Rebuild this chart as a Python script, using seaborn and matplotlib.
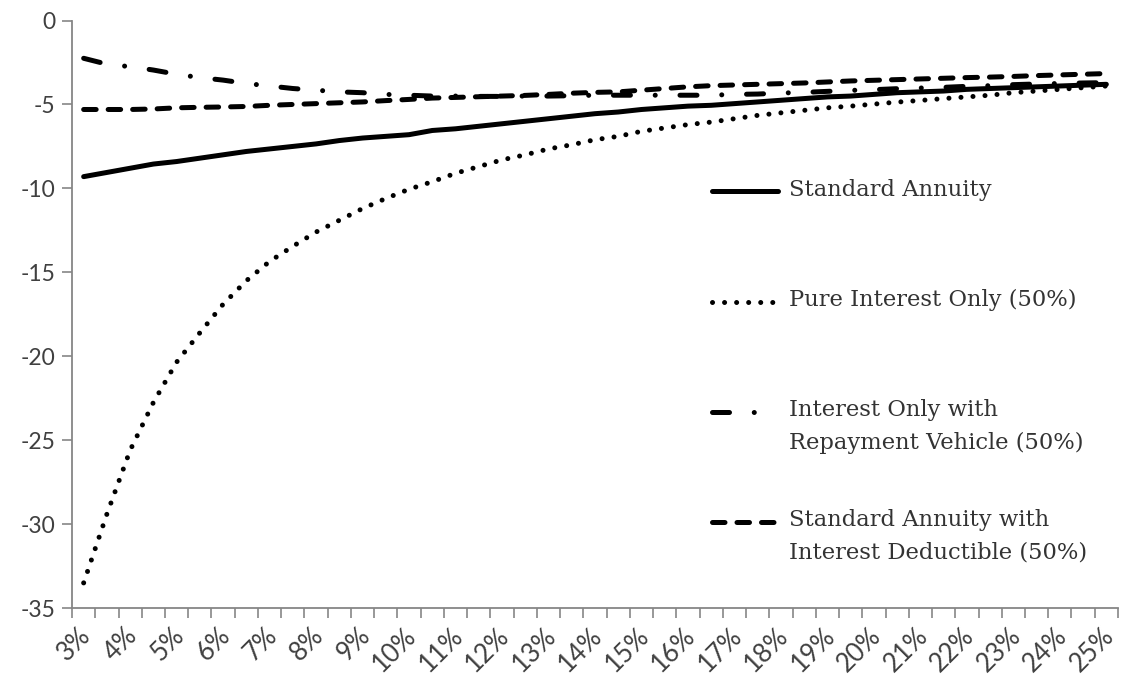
import matplotlib
matplotlib.use("Agg")
import numpy as np
import pandas as pd
import matplotlib.pyplot as plt
import seaborn as sns
from matplotlib.legend_handler import HandlerLine2D
from matplotlib.lines import Line2D
from matplotlib.transforms import ScaledTranslation

# Interest rate categories (%)
rates = [3.0, 3.5, 4.0, 4.5, 5.0, 5.5, 6.0, 6.5, 7.0, 7.5, 8.0, 8.5, 9.0, 9.5,
         10.0, 10.5, 11.0, 11.5, 12.0, 12.5, 13.0, 13.5, 14.0, 14.5, 15.0, 15.5,
         16.0, 16.5, 17.0, 17.5, 18.0, 18.5, 19.0, 19.5, 20.0, 20.5, 21.0, 21.5,
         22.0, 22.5, 23.0, 23.5, 24.0, 24.5, 25.0]

tick_labels = ["3%", "4%", "5%", "6%", "7%", "8%", "9%", "10%", "11%", "12%",
               "13%", "14%", "15%", "16%", "17%", "18%", "19%", "20%", "21%",
               "22%", "23%", "24%", "25%"]

y_ticks = [0, -5, -10, -15, -20, -25, -30, -35]
y_tick_labels = ["0", "-5", "-10", "-15", "-20", "-25", "-30", "-35"]

standard_annuity = [-9.3, -9.05, -8.8, -8.55, -8.4, -8.2, -8.0, -7.8, -7.65, -7.5,
                    -7.35, -7.15, -7.0, -6.9, -6.8, -6.55, -6.45, -6.3, -6.15, -6.0,
                    -5.85, -5.7, -5.55, -5.45, -5.3, -5.2, -5.1, -5.05, -4.95, -4.85,
                    -4.75, -4.65, -4.55, -4.5, -4.4, -4.3, -4.25, -4.2, -4.1, -4.05,
                    -4.0, -3.95, -3.9, -3.85, -3.8]

pure_interest_only = [-33.5, -29.4, -25.6, -22.75, -20.35, -18.6, -16.9, -15.5, -14.35,
                      -13.45, -12.6, -11.9, -11.2, -10.6, -10.05, -9.6, -9.1, -8.7,
                      -8.3, -8.0, -7.65, -7.4, -7.1, -6.9, -6.6, -6.4, -6.2, -6.05,
                      -5.85, -5.65, -5.5, -5.35, -5.2, -5.1, -4.98, -4.86, -4.76,
                      -4.65, -4.55, -4.45, -4.3, -4.2, -4.1, -4.0, -3.9]

io_repayment_vehicle = [-2.25, -2.6, -2.75, -2.95, -3.2, -3.4, -3.55, -3.75, -3.9,
                        -4.05, -4.15, -4.25, -4.3, -4.4, -4.45, -4.5, -4.5, -4.52,
                        -4.52, -4.5, -4.5, -4.48, -4.45, -4.45, -4.45, -4.45, -4.45,
                        -4.45, -4.4, -4.38, -4.32, -4.28, -4.22, -4.16, -4.12, -4.06,
                        -4.02, -3.98, -3.92, -3.88, -3.82, -3.78, -3.75, -3.72, -3.7]

sa_interest_deductible = [-5.3, -5.3, -5.3, -5.27, -5.2, -5.17, -5.15, -5.12, -5.05,
                          -5.0, -4.95, -4.9, -4.85, -4.77, -4.7, -4.62, -4.58, -4.54,
                          -4.5, -4.46, -4.4, -4.33, -4.28, -4.25, -4.15, -4.05, -3.95,
                          -3.88, -3.84, -3.8, -3.76, -3.72, -3.66, -3.6, -3.56, -3.52,
                          -3.48, -3.44, -3.4, -3.37, -3.33, -3.28, -3.24, -3.2, -3.16]

series_labels = ["Standard Annuity",
                 "Pure Interest Only (50%)",
                 "Interest Only with\nRepayment Vehicle (50%)",
                 "Standard Annuity with\nInterest Deductible (50%)"]

df = pd.DataFrame({
    "pos": np.arange(len(rates)),
    "rate": rates,
    series_labels[0]: standard_annuity,
    series_labels[1]: pure_interest_only,
    series_labels[2]: io_repayment_vehicle,
    series_labels[3]: sa_interest_deductible,
})

line_styles = {
    series_labels[0]: "-",
    series_labels[1]: (0, (0.01, 2.4)),
    series_labels[2]: (0, (3.4, 4.95, 0.01, 4.95)),
    series_labels[3]: (0, (2.5, 2.4)),
}

sns.set_style("ticks")
plt.rcParams["font.family"] = ["Lato", "DejaVu Sans"]

axis_grey = "#868686"
text_grey = "#404040"

fig = plt.figure(figsize=(11.22, 6.84), dpi=100)
ax = fig.add_axes([0.0642, 0.111, 0.9322, 0.859])

for name in series_labels:
    sns.lineplot(data=df, x="pos", y=name, ax=ax, color="black", linewidth=3.6,
                 linestyle=line_styles[name], solid_capstyle="round",
                 dash_capstyle="round", label=name)

# Axes limits and ticks
ax.set_xlim(-0.5, len(rates) - 0.5)
ax.set_ylim(-35, 0)
ax.set_xticks(np.arange(0, len(rates), 2))
ax.set_xticklabels(tick_labels, rotation=45, ha="right", va="center",
                   rotation_mode="anchor", fontsize=18.5, color=text_grey)
ax.set_xticks(np.arange(-0.5, len(rates), 1), minor=True)
ax.tick_params(axis="x", which="major", length=0, pad=17)
ax.tick_params(axis="x", which="minor", length=7, width=1.2, color=axis_grey)
shift = ScaledTranslation(2.5 / 72, 0, fig.dpi_scale_trans)
for lbl in ax.get_xticklabels():
    lbl.set_transform(lbl.get_transform() + shift)

ax.set_yticks(y_ticks)
ax.set_yticklabels(y_tick_labels, fontsize=16.5, color=text_grey)
ax.tick_params(axis="y", length=7, width=1.2, color=axis_grey, pad=5)

ax.set_xlabel("")
ax.set_ylabel("")
for side in ("top", "right"):
    ax.spines[side].set_visible(False)
for side in ("left", "bottom"):
    ax.spines[side].set_color(axis_grey)
    ax.spines[side].set_linewidth(1.3)


class FirstLineHandler(HandlerLine2D):
    """Legend line handle aligned with the first line of a two-line label."""

    def __init__(self, lift, **kw):
        super().__init__(**kw)
        self.lift = lift

    def create_artists(self, legend, orig_handle, xdescent, ydescent, width,
                       height, fontsize, trans):
        artists = super().create_artists(legend, orig_handle, xdescent, ydescent,
                                         width, height, fontsize, trans)
        for a in artists:
            a.set_ydata(np.asarray(a.get_ydata()) + self.lift)
        return artists


handles = ax.get_lines()[:4]
legend_labels = [lab if "\n" in lab else lab + "\n " for lab in series_labels]
leg = ax.legend(handles, legend_labels, loc="upper left",
                bbox_to_anchor=(0.612, 0.73), frameon=False,
                prop={"family": "DejaVu Serif", "size": 16.3},
                handlelength=2.9, handletextpad=0.5, labelspacing=2.45,
                borderpad=0, borderaxespad=0,
                handler_map={Line2D: FirstLineHandler(lift=11.2)})
for t in leg.get_texts():
    t.set_color("#333333")
    t.set_linespacing(1.62)

fig.savefig("out.png", dpi=100)
